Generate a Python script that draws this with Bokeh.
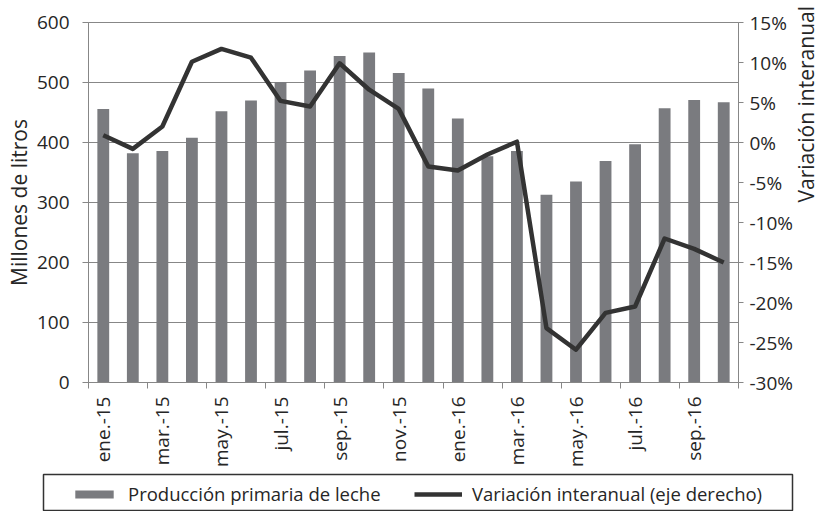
from bokeh.plotting import figure
from bokeh.models import (Range1d, LinearAxis, FixedTicker, Legend, LegendItem,
                          ColumnDataSource, PrintfTickFormatter)
from bokeh.embed import file_html
from bokeh.resources import INLINE
import numpy as np

months = ["ene.-15", "feb.-15", "mar.-15", "abr.-15", "may.-15", "jun.-15",
          "jul.-15", "ago.-15", "sep.-15", "oct.-15", "nov.-15", "dic.-15",
          "ene.-16", "feb.-16", "mar.-16", "abr.-16", "may.-16", "jun.-16",
          "jul.-16", "ago.-16", "sep.-16", "oct.-16"]
produccion = [456, 382, 386, 408, 452, 470, 501, 520, 544, 550, 516, 490,
              440, 377, 386, 313, 335, 369, 397, 457, 471, 467]
variacion = [0.9, -0.8, 2.0, 10.1, 11.7, 10.6, 5.2, 4.5, 9.9, 6.6, 4.2, -3.0,
             -3.5, -1.5, 0.1, -23.2, -25.9, -21.3, -20.5, -12.0, -13.3, -15.0]
left_ticks = [0, 100, 200, 300, 400, 500, 600]
right_ticks = [-30, -25, -20, -15, -10, -5, 0, 5, 10, 15]
serie_barras = "Producción primaria de leche"
serie_linea = "Variación interanual (eje derecho)"

FONT = "Open Sans"
FS = "19px"
TITLE_FS = "21px"
LEG_FS = "18.5px"
GRID = "#878787"
TXT = "#262626"
BAR_COLOR = "#7a7b7f"
LINE_COLOR = "#333333"

x = np.arange(len(months)) + 0.5
src = ColumnDataSource(dict(x=x, prod=produccion, var=variacion, month=months))

p = figure(frame_width=650, frame_height=360, output_backend="svg", toolbar_location=None,
           x_range=Range1d(0, len(months)), y_range=Range1d(0, 600),
           min_border_left=88, min_border_right=82, min_border_top=22,
           min_border_bottom=90)
p.extra_y_ranges = {"pct": Range1d(-30, 15)}

p.vbar(x="x", top="prod", width=0.4, source=src, fill_color=BAR_COLOR, line_color=None)
p.line(x="x", y="var", source=src, y_range_name="pct", line_color=LINE_COLOR,
       line_width=4.5, line_join="round")

label_pos = [float(v) for v in x[::2]]
xa = p.xaxis[0]
xa.ticker = FixedTicker(ticks=label_pos,
                        minor_ticks=[float(v) for v in np.arange(0, len(months) + 1, 2)])
xa.major_label_overrides = {float(v): months[i * 2] for i, v in enumerate(label_pos)}
xa.major_label_orientation = np.pi / 2
xa.major_tick_out = 0
xa.major_tick_in = 0
xa.minor_tick_out = 6
xa.minor_tick_in = 0
xa.minor_tick_line_color = GRID
xa.axis_line_color = GRID
xa.major_label_text_font = FONT
xa.major_label_text_font_size = FS
xa.major_label_text_color = TXT
xa.major_label_standoff = 8

ya = p.yaxis[0]
ya.ticker = FixedTicker(ticks=left_ticks)
ya.axis_label = "Millones de litros"
ya.axis_line_color = GRID
ya.major_tick_line_color = GRID
ya.major_tick_out = 6
ya.major_tick_in = 0
ya.minor_tick_line_color = None
ya.major_label_text_font = FONT
ya.major_label_text_font_size = FS
ya.major_label_text_color = TXT
ya.axis_label_text_font = FONT
ya.axis_label_text_font_size = TITLE_FS
ya.axis_label_text_font_style = "normal"
ya.axis_label_text_color = TXT
ya.major_label_standoff = 13
ya.axis_label_standoff = 1

ra = LinearAxis(y_range_name="pct", ticker=FixedTicker(ticks=right_ticks),
                formatter=PrintfTickFormatter(format="%d%%"))
ra.axis_label = "Variación interanual"
ra.axis_line_color = GRID
ra.major_tick_line_color = GRID
ra.major_tick_out = 5
ra.major_tick_in = 0
ra.minor_tick_line_color = None
ra.major_label_text_font = FONT
ra.major_label_text_font_size = FS
ra.major_label_text_color = TXT
ra.axis_label_text_font = FONT
ra.axis_label_text_font_size = TITLE_FS
ra.axis_label_text_font_style = "normal"
ra.axis_label_text_color = TXT
ra.major_label_standoff = 6
ra.axis_label_standoff = 10
if "axis_label_orientation" in ra.properties():
    ra.axis_label_orientation = np.pi / 2
p.add_layout(ra, "right")

p.xgrid.grid_line_color = None
p.ygrid.ticker = FixedTicker(ticks=left_ticks)
p.ygrid.grid_line_color = GRID
p.ygrid.grid_line_width = 1
p.outline_line_color = GRID
p.background_fill_color = "white"
p.border_fill_color = "white"

# legend strip below the chart (separate root); its frame outline forms the legend box
p2 = figure(width=818, height=39, output_backend="svg", toolbar_location=None,
            x_range=Range1d(0, len(months)), y_range=Range1d(1000, 1001),
            x_axis_type=None, y_axis_type=None,
            min_border_left=43, min_border_right=26, min_border_top=2,
            min_border_bottom=0)
p2.grid.grid_line_color = None
p2.outline_line_color = "#333333"
p2.outline_line_width = 1.5
p2.border_fill_color = "white"
p2.background_fill_color = "white"
r_bar = p2.vbar(x="x", top="prod", width=0.4, source=src, fill_color=BAR_COLOR,
                line_color=None)
r_line = p2.line(x="x", y="var", source=src, line_color=LINE_COLOR, line_width=4.5)

legend = Legend(items=[LegendItem(label=serie_barras, renderers=[r_bar]),
                       LegendItem(label=serie_linea, renderers=[r_line])],
                orientation="horizontal", location=(27, 5))
legend.label_text_font = FONT
legend.label_text_font_size = LEG_FS
legend.label_text_color = TXT
legend.glyph_width = 48
legend.glyph_height = 10
legend.label_height = 20
legend.label_width = 286
legend.label_standoff = 10
legend.spacing = 0
legend.padding = 5
legend.margin = 0
legend.border_line_color = None
legend.background_fill_alpha = 0
p2.add_layout(legend, "center")

open("out.html", "w").write(file_html([p, p2], INLINE))
